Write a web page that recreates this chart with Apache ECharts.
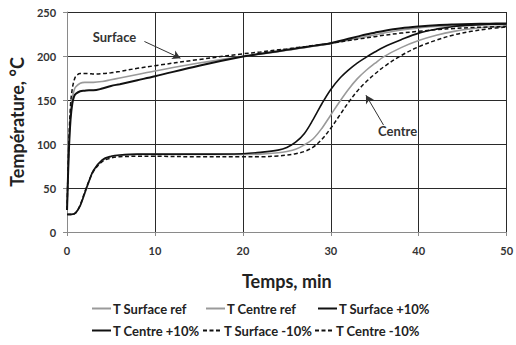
<!DOCTYPE html>
<html>
<head>
<meta charset="utf-8">
<script src="https://cdn.jsdelivr.net/npm/echarts@6/dist/echarts.min.js"></script>
<style>html,body{margin:0;padding:0;background:#fff;}#c{width:516px;height:345px;}</style>
</head>
<body>
<div id="c"></div>
<script>
var seriesNames = ['T Surface ref', 'T Centre ref', 'T Surface +10%', 'T Centre +10%', 'T Surface -10%', 'T Centre -10%'];
var xTicks = [0, 10, 20, 30, 40, 50];
var yTicks = [0, 50, 100, 150, 200, 250];

var tSurf = [0, 0.2, 0.4, 0.6, 0.8, 1, 1.5, 2, 2.5, 3, 4, 5, 6, 8, 10, 15, 20, 22, 24, 25, 26, 27, 28, 29, 30, 31, 32, 33, 34, 35, 36, 38, 40, 42, 44, 46, 48, 50];
var surfRef   = [25, 95, 135, 152, 161, 165, 169, 170, 170, 170, 171, 173, 175, 179, 183, 192, 199.5, 202, 205, 206.5, 208, 209.5, 211, 212.5, 214, 216, 218, 220, 222, 224, 226, 229.5, 232, 233.5, 234.5, 235.2, 235.7, 236];
var surfPlus  = [25, 90, 128, 146, 154, 157, 160, 160.5, 161, 161, 163, 166, 168, 172.5, 177, 189, 199.5, 202.5, 205.5, 207, 208.5, 210, 211.5, 213, 214.5, 217, 219.5, 222, 224.5, 226.5, 228.5, 231.5, 233.5, 235, 235.8, 236.3, 236.7, 237];
var surfMinus = [25, 100, 145, 163, 172, 177, 180, 180, 180, 179.5, 180, 181, 182.5, 186, 189, 196, 202.5, 204.5, 207, 208, 209.5, 210.5, 212, 213, 214.5, 216, 217.5, 219, 220.5, 222, 223.5, 226, 228, 230, 231.2, 232.3, 233, 233.5];

var tCent = [0, 0.5, 1, 1.5, 2, 2.5, 3, 4, 5, 6, 8, 10, 15, 20, 22, 24, 25, 26, 27, 28, 29, 30, 31, 32, 33, 34, 35, 36, 38, 40, 42, 44, 46, 48, 50];
var centRef   = [20, 20, 22, 30, 43, 57, 69, 81, 85.5, 87, 88, 88, 88, 88, 88.5, 90, 91.5, 94, 99, 106, 118, 133, 148, 162, 174, 183.5, 191.5, 199, 209.5, 217.5, 223.5, 228, 231, 233, 234];
var centPlus  = [20, 20, 22, 30, 44, 58, 70, 82, 86, 87.5, 88.5, 88.5, 88.5, 89, 90.5, 93, 96, 102, 112, 128, 146, 162, 174.5, 184, 192, 198.5, 204.5, 210, 218.5, 226, 230.5, 233.5, 235, 236, 236.5];
var centMinus = [20, 20, 22, 31, 45, 58, 69, 80, 84, 85.5, 86, 86, 85.5, 85.5, 85.5, 86.5, 87.5, 89, 91.5, 96.5, 105.5, 118, 132.5, 147, 160, 170.5, 179.5, 187.5, 200.5, 210.5, 218, 224, 228, 231, 233];

var annotTexts = ['Surface', 'Centre'];
var annotTextPos = [[5.4, 221.5], [37.6, 114.5]];
var annotArrows = [[[8.8, 216.5], [12.9, 197.5]], [[36.0, 121.5], [34.0, 155.5]]];

function pairs(xs, ys) { return xs.map(function (x, i) { return [x, ys[i]]; }); }

var FONT = 'Lato';
var styles = [
  { color: '#9a9a9a', width: 1.6, type: 'solid', x: tSurf, y: surfRef },
  { color: '#9a9a9a', width: 1.6, type: 'solid', x: tCent, y: centRef },
  { color: '#111111', width: 2, type: 'solid', x: tSurf, y: surfPlus },
  { color: '#111111', width: 1.6, type: 'solid', x: tCent, y: centPlus },
  { color: '#111111', width: 1.5, type: [4, 2.5], x: tSurf, y: surfMinus },
  { color: '#111111', width: 1.5, type: [4, 2.5], x: tCent, y: centMinus }
];

var series = seriesNames.map(function (n, i) {
  var s = styles[i];
  return {
    name: n, type: 'line', data: pairs(s.x, s.y),
    showSymbol: false, symbol: 'none', smooth: 0.35, animation: false,
    lineStyle: { color: s.color, width: s.width, type: s.type },
    itemStyle: { color: s.color },
    z: 3
  };
});

series.push({
  type: 'line', data: [], silent: true, animation: false,
  markLine: {
    silent: true, animation: false, symbol: ['none', 'arrow'], symbolSize: [7, 8],
    label: { show: false },
    lineStyle: { color: '#333', width: 1, type: 'solid' },
    data: annotArrows.map(function (a) { return [{ coord: a[0] }, { coord: a[1] }]; })
  },
  markPoint: {
    silent: true, animation: false, symbol: 'circle', symbolSize: 0,
    label: { show: true, position: 'inside', color: '#333', fontFamily: FONT, fontWeight: 'bold', fontSize: 13, formatter: '{b}' },
    data: annotTexts.map(function (t, i) { return { name: t, coord: annotTextPos[i] }; })
  }
});

var legendPos = [[91, 302], [205, 302], [317, 302], [91, 324], [202, 324], [314, 324]];
var legends = seriesNames.map(function (n, i) {
  return {
    data: [n], left: legendPos[i][0], top: legendPos[i][1],
    itemWidth: 19, itemHeight: 12, itemGap: 0, padding: 0,
    selectedMode: false,
    itemStyle: { opacity: 0, borderWidth: 0 },
    textStyle: { fontFamily: FONT, fontWeight: 'bold', fontSize: 13, color: '#222', padding: [0, 0, 0, -3] }
  };
});

var chart = echarts.init(document.getElementById('c'), null, { renderer: 'svg' });
chart.setOption({
  animation: false,
  backgroundColor: '#fff',
  grid: { left: 65, right: 7, top: 12, bottom: 113, containLabel: false },
  legend: legends,
  xAxis: {
    type: 'value', min: xTicks[0], max: xTicks[xTicks.length - 1], interval: 10,
    name: 'Temps, min', nameLocation: 'middle', nameGap: 40,
    nameTextStyle: { fontFamily: FONT, fontWeight: 'bold', fontSize: 18, color: '#222' },
    axisLine: { show: true, lineStyle: { color: '#8a8a8a', width: 1 } },
    axisTick: { show: true, length: 4, inside: false, lineStyle: { color: '#8a8a8a' } },
    axisLabel: { fontFamily: FONT, fontWeight: 'bold', fontSize: 11, color: '#333', margin: 13 },
    splitLine: { show: true, lineStyle: { color: '#2a2a2a', width: 1 } }
  },
  yAxis: {
    type: 'value', min: yTicks[0], max: yTicks[yTicks.length - 1], interval: 50,
    name: 'Température, °C', nameLocation: 'middle', nameGap: 38, nameRotate: 90,
    nameTextStyle: { fontFamily: FONT, fontWeight: 'bold', fontSize: 18, color: '#222' },
    axisLine: { show: true, lineStyle: { color: '#8a8a8a', width: 1 } },
    axisTick: { show: true, length: 4, inside: false, lineStyle: { color: '#8a8a8a' } },
    axisLabel: { fontFamily: FONT, fontWeight: 'bold', fontSize: 11, color: '#333', margin: 11 },
    splitLine: { show: true, lineStyle: { color: '#2a2a2a', width: 1 } }
  },
  series: series
});
</script>
</body>
</html>
